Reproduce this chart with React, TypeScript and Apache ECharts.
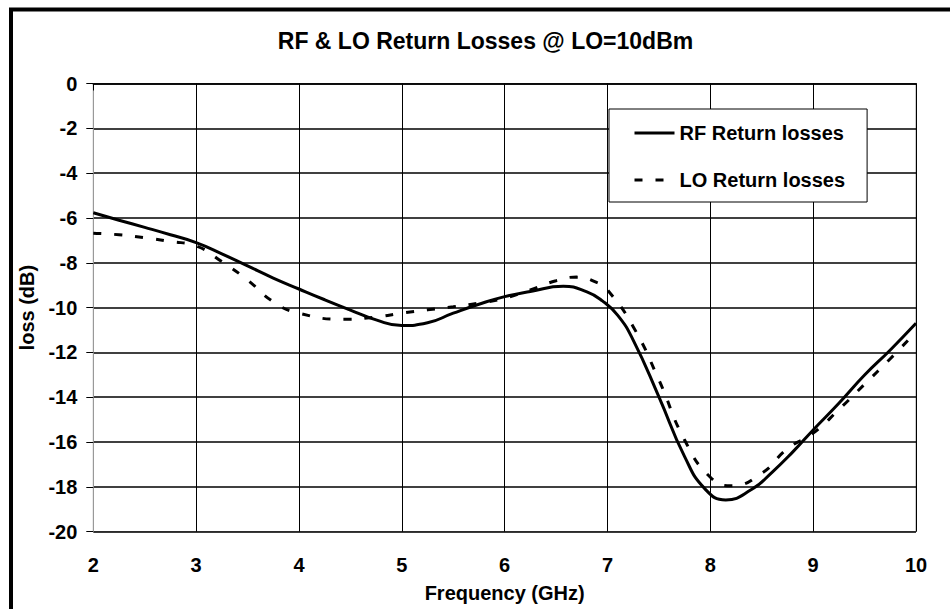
import React, { useEffect, useRef } from "react";
import * as echarts from "echarts";

const titleText = "RF & LO Return Losses @ LO=10dBm";
const xName = "Frequency (GHz)";
const yName = "loss (dB)";
const rfName = "RF Return losses";
const loName = "LO Return losses";

const rfFreq = [2, 2.25, 2.5, 2.75, 3, 3.25, 3.5, 3.75, 4, 4.25, 4.5, 4.75, 5, 5.25, 5.5, 5.75, 6, 6.25, 6.57, 6.8, 6.95, 7.1, 7.25, 7.5, 7.75, 7.95, 8.15, 8.4, 8.6, 8.8, 9, 9.25, 9.5, 9.75, 10];
const rfLoss = [-5.77, -6.1, -6.42, -6.75, -7.1, -7.6, -8.14, -8.68, -9.17, -9.65, -10.11, -10.55, -10.8, -10.68, -10.25, -9.85, -9.51, -9.28, -9.05, -9.3, -9.7, -10.35, -11.45, -13.98, -16.65, -18.1, -18.58, -18.12, -17.35, -16.45, -15.46, -14.27, -13.01, -11.89, -10.7];

const loFreq = [2, 2.25, 2.5, 2.75, 3, 3.25, 3.5, 3.75, 4, 4.45, 4.75, 5, 5.25, 5.5, 5.75, 6, 6.25, 6.5, 6.7, 6.9, 7, 7.25, 7.5, 7.75, 8, 8.2, 8.5, 8.75, 9, 9.25, 9.5, 9.75, 10];
const loLoss = [-6.68, -6.75, -6.88, -7.05, -7.25, -7.95, -8.77, -9.74, -10.25, -10.52, -10.42, -10.25, -10.1, -9.96, -9.8, -9.58, -9.21, -8.8, -8.64, -8.89, -9.21, -10.85, -13.23, -15.91, -17.57, -17.95, -17.39, -16.3, -15.6, -14.55, -13.42, -12.28, -11.08];

const FONT = "'Liberation Sans', Arial, sans-serif";

export default function App() {
  const ref = useRef<HTMLDivElement>(null);
  useEffect(() => {
    if (!ref.current) return;
    const chart = echarts.init(ref.current, undefined, { renderer: "svg" });
    const zip = (xs: number[], ys: number[]) => xs.map((x, i) => [x, ys[i]]);
    chart.setOption({
      animation: false,
      backgroundColor: "#fff",
      textStyle: { fontFamily: FONT, fontWeight: "bold", color: "#000" },
      title: {
        text: titleText,
        left: 485.5,
        top: 29,
        padding: 0,
        textAlign: "center",
        textStyle: { fontFamily: FONT, fontWeight: "bold", fontSize: 23, color: "#000" },
      },
      graphic: [
        {
          type: "rect",
          shape: { x: 11, y: 9.5, width: 1000, height: 800 },
          style: { fill: "none", stroke: "#000", lineWidth: 4 },
          z: 100,
          silent: true,
        },
      ],
      legend: {
        orient: "vertical",
        left: 609,
        top: 109,
        padding: [14, 22, 12, 24],
        itemGap: 27,
        itemWidth: 40,
        itemHeight: 14,
        backgroundColor: "#fff",
        borderColor: "#000",
        borderWidth: 1,
        itemStyle: { opacity: 0 },
        lineStyle: { width: 3 },
        textStyle: { fontFamily: FONT, fontWeight: "bold", fontSize: 20, lineHeight: 20, color: "#000" },
        data: [{ name: rfName }, { name: loName }],
      },
      grid: {
        left: 93.3,
        top: 83.5,
        right: 34,
        bottom: 77.3,
        show: true,
        borderColor: "#999",
        borderWidth: 1,
      },
      xAxis: {
        type: "value",
        min: 2,
        max: 10,
        interval: 1,
        name: xName,
        nameLocation: "middle",
        nameGap: 51,
        nameTextStyle: { fontFamily: FONT, fontWeight: "bold", fontSize: 20, color: "#000" },
        axisLine: { show: true, lineStyle: { color: "#000", width: 1.5 } },
        axisTick: { show: true, inside: false, length: 7, lineStyle: { color: "#000", width: 1 } },
        axisLabel: { margin: 23, fontFamily: FONT, fontWeight: "bold", fontSize: 20, color: "#000" },
        splitLine: { show: true, lineStyle: { color: "#000", width: 1 } },
      },
      yAxis: {
        type: "value",
        min: -20,
        max: 0,
        interval: 2,
        name: yName,
        nameLocation: "middle",
        nameGap: 54,
        nameTextStyle: { fontFamily: FONT, fontWeight: "bold", fontSize: 20, color: "#000" },
        axisLine: { show: true, onZero: false, lineStyle: { color: "#999", width: 1 } },
        axisTick: { show: true, inside: false, length: 7, lineStyle: { color: "#000", width: 1 } },
        axisLabel: { margin: 16, fontFamily: FONT, fontWeight: "bold", fontSize: 20, color: "#000" },
        splitLine: { show: true, lineStyle: { color: "#000", width: 1.5 } },
      },
      series: [
        {
          name: rfName,
          type: "line",
          data: zip(rfFreq, rfLoss),
          smooth: 0.5,
          symbol: "none",
          lineStyle: { color: "#000", width: 3 },
          itemStyle: { color: "#000" },
          z: 5,
        },
        {
          name: loName,
          type: "line",
          data: zip(loFreq, loLoss),
          smooth: 0.5,
          symbol: "none",
          lineStyle: { color: "#000", width: 3, type: [8, 13] },
          itemStyle: { color: "#000" },
          z: 4,
        },
      ],
    });
    return () => chart.dispose();
  }, []);
  return (
    <div
      ref={ref}
      style={{ position: "absolute", left: 0, top: 0, width: 950, height: 609 }}
    />
  );
}
